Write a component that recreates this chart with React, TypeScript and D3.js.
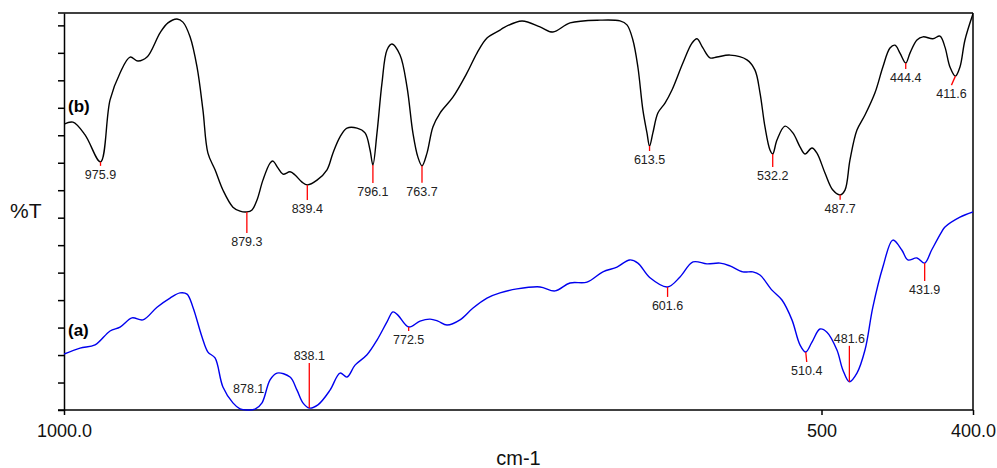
import React, { useEffect, useRef } from 'react';
import * as d3 from 'd3';

// spectrum (b) - upper, black
const wavenumberB = [
  1000, 994.1, 986.1, 975.9, 969.6, 963.0, 956.4, 951.2, 945.2, 936.6, 931.4, 925.4, 921.5, 916.8,
  912.2, 908.3, 905.0, 900.3, 895.1, 888.5, 883.8, 879.3, 875.9, 872.6, 868.7, 864.0, 862.1, 858.8,
  855.5, 850.8, 847.5, 842.9, 839.4, 833.0, 826.4, 822.5, 817.8, 813.2, 806.6, 801.3, 798.0, 796.1,
  793.4, 790.1, 786.8, 783.5, 778.2, 773.6, 769.7, 766.4, 763.7, 760.4, 756.5, 751.8, 743.3, 734.0,
  727.4, 720.8, 712.2, 710.3, 697.7, 685.8, 677.3, 666.0, 646.2, 633.0, 628.4, 624.5, 621.2, 617.9,
  615.2, 613.5, 611.3, 608.0, 603.3, 598.7, 591.5, 585.5, 582.2, 578.3, 573.6, 569.0, 560.4, 549.2,
  543.9, 540.6, 537.3, 534.0, 532.2, 529.4, 524.1, 518.9, 514.2, 510.9, 506.3, 503.0, 497.7, 492.5,
  487.7, 484.5, 481.2, 476.6, 471.3, 464.7, 459.5, 454.8, 451.5, 448.2, 444.4, 441.6, 437.0, 433.0,
  426.5, 421.8, 418.5, 415.2, 411.6, 408.6, 405.3, 400
];
const transB = [
  72.0, 72.5, 69.3, 62.5, 78.1, 84.9, 88.9, 87.9, 88.9, 95.0, 97.5, 98.5, 97.7, 94.0,
  86.4, 75.6, 64.7, 60.5, 55.4, 51.1, 50.1, 49.9, 50.4, 52.9, 57.9, 62.2, 62.7, 61.0,
  59.4, 60.0, 59.2, 57.4, 56.7, 57.9, 60.5, 64.7, 68.8, 71.0, 71.0, 69.8, 65.5, 61.7,
  69.8, 82.4, 90.7, 92.2, 89.4, 81.4, 69.8, 63.7, 61.5, 64.7, 71.3, 74.8, 78.8, 84.9,
  89.9, 93.7, 95.7, 96.2, 98.0, 96.5, 95.2, 97.5, 98.2, 98.0, 97.0, 93.2, 86.4, 75.6,
  69.8, 66.5, 69.8, 74.8, 77.3, 80.6, 87.4, 92.4, 93.5, 91.2, 88.7, 88.9, 89.4, 88.2,
  85.6, 79.9, 71.3, 65.5, 64.5, 68.0, 71.5, 69.8, 66.3, 64.5, 66.0, 64.7, 59.7, 55.4,
  54.2, 55.4, 63.0, 70.5, 74.3, 79.9, 86.4, 91.2, 91.9, 89.9, 87.4, 89.9, 93.2, 94.0,
  93.5, 94.2, 91.4, 86.4, 84.1, 86.4, 93.2, 99.8
];

// spectrum (a) - lower, blue
const wavenumberA = [
  1000, 989.4, 979.5, 969.6, 963.0, 955.1, 947.9, 938.6, 930.0, 923.4, 918.8, 914.9, 908.9, 905.0,
  900.3, 895.1, 888.5, 883.8, 879.2, 873.9, 869.3, 864.0, 859.4, 850.8, 846.2, 842.3, 838.1, 832.4,
  824.4, 817.8, 813.2, 807.9, 800.0, 793.4, 786.8, 782.9, 779.6, 772.5, 765.0, 758.4, 753.2, 747.2,
  738.6, 730.0, 720.8, 712.2, 701.0, 685.8, 675.9, 666.0, 654.8, 644.3, 635.0, 626.6, 621.2, 613.2,
  601.6, 593.4, 584.8, 575.6, 567.0, 560.4, 551.9, 545.3, 540.6, 532.7, 526.1, 519.5, 514.2, 510.4,
  506.3, 501.0, 496.4, 489.8, 485.9, 481.6, 476.6, 471.3, 466.1, 459.5, 452.9, 447.0, 443.0, 437.0,
  431.9, 427.3, 420.8, 418.5, 408.6, 400
];
const transA = [
  14.1, 15.6, 16.4, 19.9, 20.9, 23.2, 22.7, 25.9, 28.2, 29.5, 29.2, 25.9, 18.4, 14.6,
  13.1, 5.8, 1.8, 0.3, 0.0, 0.2, 1.8, 7.6, 9.3, 8.3, 5.0, 1.8, 0.5, 1.3,
  5.0, 9.3, 8.3, 11.3, 13.9, 17.6, 22.2, 24.7, 23.9, 20.9, 22.4, 22.9, 22.4, 21.4,
  22.7, 25.7, 28.2, 29.5, 30.5, 31.0, 30.0, 32.0, 32.2, 34.8, 36.0, 37.8, 37.0, 33.3,
  31.0, 33.5, 37.3, 36.8, 37.0, 36.3, 34.8, 34.8, 34.0, 30.2, 27.7, 22.7, 16.4, 14.6,
  17.1, 20.4, 19.6, 15.1, 10.1, 7.1, 9.3, 15.1, 25.9, 36.0, 42.8, 40.3, 37.8, 38.3,
  37.0, 40.3, 44.8, 46.1, 48.6, 49.9
];

const peaksB = ['975.9', '879.3', '839.4', '796.1', '763.7', '613.5', '532.2', '487.7', '444.4', '411.6'];
const peaksA = ['878.1', '838.1', '772.5', '601.6', '510.4', '481.6', '431.9'];

const xTicks = [1000, 500, 400];
const xTickLabels = ['1000.0', '500', '400.0'];

// leader line look: length in px, negative = drawn upward (label above), dx slants it
const leader: Record<string, { len: number; dx?: number; hide?: boolean }> = {
  '975.9': { len: 4 }, '879.3': { len: 21 }, '839.4': { len: 15 }, '796.1': { len: 18 },
  '763.7': { len: 17 }, '613.5': { len: 5 }, '532.2': { len: 13 }, '487.7': { len: 5 },
  '444.4': { len: 6 }, '411.6': { len: 9, dx: -4 },
  '878.1': { len: -14, hide: true }, '838.1': { len: -45 }, '772.5': { len: 4 },
  '601.6': { len: 10 }, '510.4': { len: 10, dx: 1 }, '481.6': { len: -36 }, '431.9': { len: 18 }
};

const FONT = "'Liberation Sans', Arial, sans-serif";

export default function App() {
  const ref = useRef<SVGSVGElement>(null);

  useEffect(() => {
    const W = 997, H = 468;
    const margin = { top: 13, right: 24, bottom: 58, left: 64 };
    const width = W - margin.left - margin.right;
    const height = H - margin.top - margin.bottom;

    const root = d3.select(ref.current);
    root.selectAll('*').remove();
    const svg = root.append('g').attr('transform', `translate(${margin.left},${margin.top})`);

    const x = d3.scaleLinear().domain([1000, 400]).range([0, width]);
    const y = d3.scaleLinear().domain([0, 100]).range([height, 0]);

    const seriesB = wavenumberB.map((w, i) => ({ w, t: transB[i] }));
    const seriesA = wavenumberA.map((w, i) => ({ w, t: transA[i] }));

    const line = d3.line<{ w: number; t: number }>()
      .x((d) => x(d.w))
      .y((d) => y(d.t))
      .curve(d3.curveCatmullRom.alpha(0.5));

    // frame
    svg.append('line').attr('x1', -6).attr('x2', width).attr('y1', 0).attr('y2', 0)
      .attr('stroke', '#000').attr('stroke-width', 1.5);
    svg.append('line').attr('x1', width).attr('x2', width).attr('y1', 0).attr('y2', height)
      .attr('stroke', '#000').attr('stroke-width', 1.5);

    const step = 100 / 14.45;
    const yAxis = d3.axisLeft(y)
      .tickValues(d3.range(0, 15).map((k) => k * step))
      .tickSize(6)
      .tickSizeOuter(0)
      .tickFormat(() => '');
    const gy = svg.append('g').call(yAxis);
    gy.selectAll('path, line').attr('stroke', '#000').attr('stroke-width', 1.5);

    const xAxis = d3.axisBottom(x)
      .tickValues(xTicks)
      .tickSize(5)
      .tickSizeOuter(0)
      .tickPadding(9)
      .tickFormat((d, i) => xTickLabels[i]);
    const gx = svg.append('g').attr('transform', `translate(0,${height})`).call(xAxis);
    gx.select('.domain').attr('d', `M-6,0H${width}`);
    gx.selectAll('path, line').attr('stroke', '#000').attr('stroke-width', 1.5);
    gx.selectAll('text').attr('font-family', FONT).attr('font-size', 18).attr('fill', '#111');

    // spectra
    const clip = svg.append('clipPath').attr('id', 'plot-clip')
      .append('rect').attr('width', width).attr('height', height + 1);
    svg.append('path').datum(seriesB).attr('d', line).attr('clip-path', 'url(#plot-clip)')
      .attr('fill', 'none').attr('stroke', '#000').attr('stroke-width', 1.4);
    svg.append('path').datum(seriesA).attr('d', line).attr('clip-path', 'url(#plot-clip)')
      .attr('fill', 'none').attr('stroke', '#0000ee').attr('stroke-width', 1.4);

    const nearest = (s: { w: number; t: number }[], w: number) =>
      s.reduce((a, b) => (Math.abs(b.w - w) < Math.abs(a.w - w) ? b : a));

    const drawPeaks = (s: { w: number; t: number }[], peaks: string[]) => {
      peaks.forEach((p) => {
        const pt = nearest(s, +p);
        const cfg = leader[p];
        const px = x(+p);
        const py = y(pt.t);
        const ex = px + (cfg.dx || 0);
        const ey = py + cfg.len;
        if (!cfg.hide) {
          svg.append('line').attr('x1', px).attr('y1', py).attr('x2', ex).attr('y2', ey)
            .attr('stroke', '#ff0000').attr('stroke-width', 1.3);
        }
        svg.append('text')
          .attr('x', ex)
          .attr('y', cfg.len >= 0 ? ey + 13 : ey - 3)
          .attr('text-anchor', 'middle')
          .attr('font-family', FONT)
          .attr('font-size', 12.5)
          .attr('fill', '#222')
          .text(p);
      });
    };
    drawPeaks(seriesB, peaksB);
    drawPeaks(seriesA, peaksA);

    // series tags
    svg.append('text').attr('x', 4).attr('y', 99).attr('font-family', FONT)
      .attr('font-size', 17).attr('font-weight', 'bold').text('(b)');
    svg.append('text').attr('x', 4).attr('y', 323).attr('font-family', FONT)
      .attr('font-size', 17).attr('font-weight', 'bold').text('(a)');

    // axis titles
    root.append('text').attr('x', 10).attr('y', 218).attr('font-family', FONT)
      .attr('font-size', 21).attr('fill', '#111').text('%T');
    root.append('text').attr('x', margin.left + width / 2).attr('y', 465)
      .attr('text-anchor', 'middle').attr('font-family', FONT)
      .attr('font-size', 20).attr('fill', '#111').text('cm-1');
  }, []);

  return (
    <svg
      ref={ref}
      width={997}
      height={468}
      style={{ position: 'absolute', left: 0, top: 0, background: '#fff' }}
    />
  );
}
